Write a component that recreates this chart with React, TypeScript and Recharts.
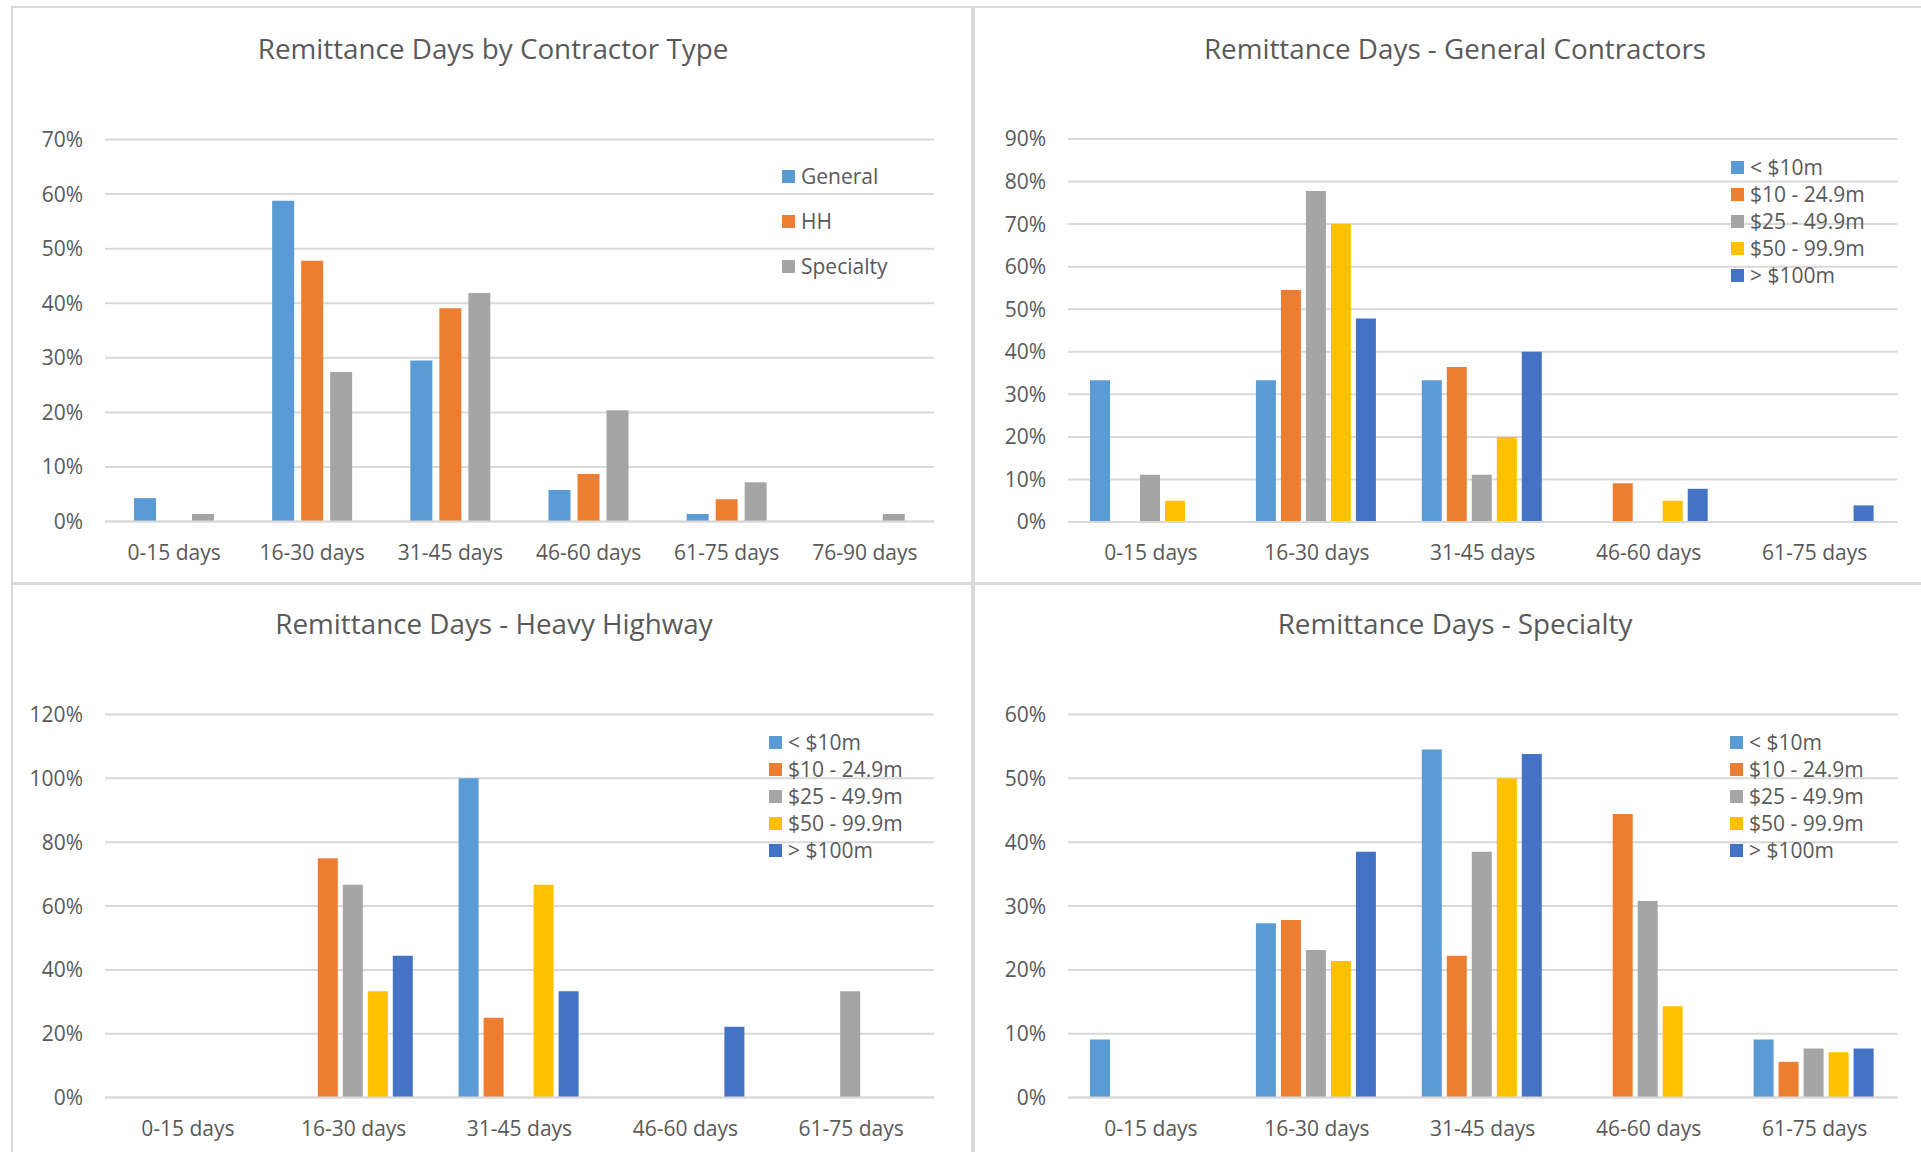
import React from 'react';
import { BarChart, Bar, XAxis, YAxis, CartesianGrid } from 'recharts';

// categories
const days6 = ['0-15 days', '16-30 days', '31-45 days', '46-60 days', '61-75 days', '76-90 days'];
const days5 = ['0-15 days', '16-30 days', '31-45 days', '46-60 days', '61-75 days'];

// chart 1: by contractor type (%)
const typeNames = ['General', 'HH', 'Specialty'];
const typeGeneral = [4.3, 58.8, 29.5, 5.8, 1.4, 0];
const typeHH = [0, 47.8, 39.1, 8.7, 4.1, 0];
const typeSpecialty = [1.4, 27.4, 41.9, 20.4, 7.2, 1.4];
const typeTicks = [0, 10, 20, 30, 40, 50, 60, 70];

// size bands used by the other three charts
const sizeNames = ['< $10m', '$10 - 24.9m', '$25 - 49.9m', '$50 - 99.9m', '> $100m'];

// chart 2: general contractors
const gcUnder10 = [33.3, 33.3, 33.3, 0, 0];
const gc10to25 = [0, 54.5, 36.4, 9.1, 0];
const gc25to50 = [11.1, 77.8, 11.1, 0, 0];
const gc50to100 = [5, 70, 20, 5, 0];
const gcOver100 = [0, 47.8, 40, 7.8, 3.9];
const gcTicks = [0, 10, 20, 30, 40, 50, 60, 70, 80, 90];

// chart 3: heavy highway
const hhUnder10 = [0, 0, 100, 0, 0];
const hh10to25 = [0, 75, 25, 0, 0];
const hh25to50 = [0, 66.7, 0, 0, 33.3];
const hh50to100 = [0, 33.3, 66.7, 0, 0];
const hhOver100 = [0, 44.4, 33.3, 22.2, 0];
const hhTicks = [0, 20, 40, 60, 80, 100, 120];

// chart 4: specialty
const spUnder10 = [9.1, 27.3, 54.5, 0, 9.1];
const sp10to25 = [0, 27.8, 22.2, 44.4, 5.6];
const sp25to50 = [0, 23.1, 38.5, 30.8, 7.7];
const sp50to100 = [0, 21.4, 50, 14.3, 7.1];
const spOver100 = [0, 38.5, 53.8, 0, 7.7];
const spTicks = [0, 10, 20, 30, 40, 50, 60];

const colors = ['#5B9BD5', '#ED7D31', '#A5A5A5', '#FFC000', '#4472C4'];
const FONT = "'Open Sans', sans-serif";
const TEXT = '#595959';
const GRID = '#d9d9d9';

type Series = { name: string; values: number[] };

type PanelProps = {
  left: number;
  top: number;
  width: number;
  height: number;
  title: string;
  titleX: number;
  titleY: number;
  categories: string[];
  series: Series[];
  ticks: number[];
  plot: { l: number; r: number; t: number; b: number };
  legend: { x: number; y: number; step: number };
  catGap: number;
  barGap: number;
};

const Panel = (p: PanelProps) => {
  const rows = p.categories.map((c, i) => {
    const row: Record<string, string | number> = { cat: c };
    p.series.forEach((s) => {
      row[s.name] = s.values[i];
    });
    return row;
  });

  return (
    <div
      style={{
        position: 'absolute',
        left: p.left,
        top: p.top,
        width: p.width,
        height: p.height,
        background: '#fff',
        overflow: 'hidden',
        fontFamily: FONT,
        color: TEXT,
      }}
    >
      <div
        style={{
          position: 'absolute',
          left: p.titleX,
          top: p.titleY,
          transform: 'translate(-50%, -50%)',
          fontSize: 27.8,
          whiteSpace: 'nowrap',
        }}
      >
        {p.title}
      </div>

      <BarChart
        width={p.width}
        height={p.height}
        data={rows}
        margin={{ top: p.plot.t, right: p.width - p.plot.r, bottom: 0, left: 0 }}
        barCategoryGap={p.catGap}
        barGap={p.barGap}
        style={{ position: 'absolute', left: 0, top: 0 }}
      >
        <CartesianGrid vertical={false} stroke={GRID} strokeWidth={2} />
        <XAxis
          dataKey="cat"
          height={p.height - p.plot.b}
          axisLine={{ stroke: GRID, strokeWidth: 2 }}
          tickLine={false}
          tickSize={0}
          tickMargin={23}
          interval={0}
          tick={{ fill: TEXT, fontSize: 21, fontFamily: FONT }}
        />
        <YAxis
          width={p.plot.l}
          domain={[p.ticks[0], p.ticks[p.ticks.length - 1]]}
          ticks={p.ticks}
          tickFormatter={(v: number) => `${v}%`}
          axisLine={false}
          tickLine={false}
          tickSize={0}
          tickMargin={22}
          interval={0}
          tick={{ fill: TEXT, fontSize: 21, fontFamily: FONT }}
        />
        {p.series.map((s, i) => (
          <Bar key={s.name} dataKey={s.name} fill={colors[i]} isAnimationActive={false} />
        ))}
      </BarChart>

      {/* legend */}
      <div style={{ position: 'absolute', left: p.legend.x, top: p.legend.y }}>
        {p.series.map((s, i) => (
          <div
            key={s.name}
            style={{
              position: 'absolute',
              left: 0,
              top: i * p.legend.step,
              display: 'flex',
              alignItems: 'center',
              height: 0,
              whiteSpace: 'nowrap',
            }}
          >
            <div style={{ width: 13, height: 13, background: colors[i], marginRight: 6 }} />
            <span style={{ fontSize: 21, lineHeight: '21px' }}>{s.name}</span>
          </div>
        ))}
      </div>
    </div>
  );
};

const App = () => {
  return (
    <div style={{ position: 'absolute', left: 0, top: 0, width: 1921, height: 1152, background: '#fff', overflow: 'hidden' }}>
      <div style={{ position: 'absolute', left: 11, top: 6, width: 1910, height: 1146, background: GRID }} />
      <Panel
        left={13}
        top={8}
        width={958}
        height={574}
        title="Remittance Days by Contractor Type"
        titleX={480}
        titleY={40}
        categories={days6}
        series={[
          { name: typeNames[0], values: typeGeneral },
          { name: typeNames[1], values: typeHH },
          { name: typeNames[2], values: typeSpecialty },
        ]}
        ticks={typeTicks}
        plot={{ l: 92, r: 921, t: 131.5, b: 513.6 }}
        legend={{ x: 769, y: 168, step: 45 }}
        catGap={29}
        barGap={7}
      />
      <Panel
        left={975}
        top={8}
        width={946}
        height={574}
        title="Remittance Days - General Contractors"
        titleX={480}
        titleY={40}
        categories={days5}
        series={[
          { name: sizeNames[0], values: gcUnder10 },
          { name: sizeNames[1], values: gc10to25 },
          { name: sizeNames[2], values: gc25to50 },
          { name: sizeNames[3], values: gc50to100 },
          { name: sizeNames[4], values: gcOver100 },
        ]}
        ticks={gcTicks}
        plot={{ l: 93, r: 922.5, t: 131, b: 514 }}
        legend={{ x: 756, y: 159, step: 27 }}
        catGap={22}
        barGap={5}
      />
      <Panel
        left={13}
        top={585}
        width={958}
        height={567}
        title="Remittance Days - Heavy Highway"
        titleX={481}
        titleY={38}
        categories={days5}
        series={[
          { name: sizeNames[0], values: hhUnder10 },
          { name: sizeNames[1], values: hh10to25 },
          { name: sizeNames[2], values: hh25to50 },
          { name: sizeNames[3], values: hh50to100 },
          { name: sizeNames[4], values: hhOver100 },
        ]}
        ticks={hhTicks}
        plot={{ l: 92, r: 921, t: 129.5, b: 512.6 }}
        legend={{ x: 756, y: 157, step: 27 }}
        catGap={22}
        barGap={5}
      />
      <Panel
        left={975}
        top={585}
        width={946}
        height={567}
        title="Remittance Days - Specialty"
        titleX={480}
        titleY={38}
        categories={days5}
        series={[
          { name: sizeNames[0], values: spUnder10 },
          { name: sizeNames[1], values: sp10to25 },
          { name: sizeNames[2], values: sp25to50 },
          { name: sizeNames[3], values: sp50to100 },
          { name: sizeNames[4], values: spOver100 },
        ]}
        ticks={spTicks}
        plot={{ l: 93, r: 922.5, t: 129.5, b: 512.6 }}
        legend={{ x: 755, y: 157, step: 27 }}
        catGap={22}
        barGap={5}
      />
    </div>
  );
};

export default App;
